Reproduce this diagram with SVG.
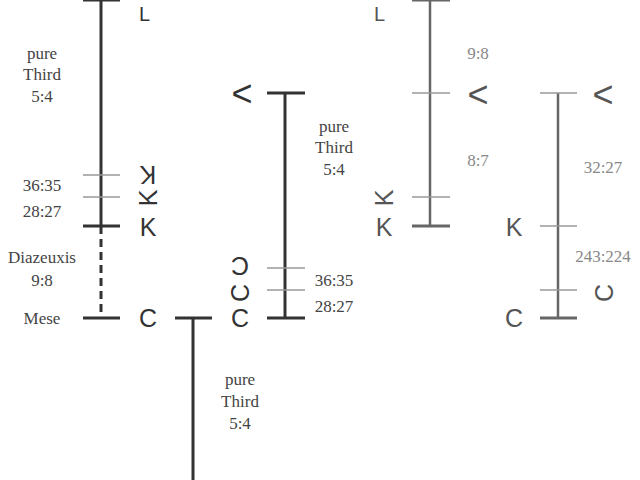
<svg xmlns="http://www.w3.org/2000/svg" width="640" height="480" viewBox="0 0 640 480">
<style>
.lbl{font-family:"Liberation Serif","Times New Roman",serif;font-size:17px;fill:#444;text-anchor:middle}
.lbl2{font-family:"Liberation Serif","Times New Roman",serif;font-size:17px;fill:#888;text-anchor:middle}
.sym{font-family:"Liberation Sans",Arial,sans-serif;font-size:25px;fill:#333;text-anchor:middle;dominant-baseline:central}
.sym2{font-family:"Liberation Sans",Arial,sans-serif;font-size:25px;fill:#555;text-anchor:middle;dominant-baseline:central}
.top{font-family:"Liberation Sans",Arial,sans-serif;font-size:20px;fill:#333}
.top2{font-family:"Liberation Sans",Arial,sans-serif;font-size:20px;fill:#555}
.lt{font-family:"Liberation Sans",Arial,sans-serif;font-size:36px;fill:#333;text-anchor:middle;dominant-baseline:central}
.lt2{font-family:"Liberation Sans",Arial,sans-serif;font-size:36px;fill:#555;text-anchor:middle;dominant-baseline:central}
.main{stroke:#333;stroke-width:3;fill:none}
.main2{stroke:#666;stroke-width:2.5;fill:none}
.tk{stroke:#333;stroke-width:3}
.tk2{stroke:#666;stroke-width:3}
.tl{stroke:#999;stroke-width:1.5}
</style>
<rect width="640" height="480" fill="#fff"/>
<g id="connectors">
  <line class="main" x1="101" y1="0" x2="101" y2="226"/>
  <line class="main" x1="101" y1="226" x2="101" y2="318" stroke-dasharray="8,5"/>
  <line class="main" x1="193" y1="318" x2="193" y2="480"/>
  <line class="main" x1="285" y1="93" x2="285" y2="318"/>
  <line class="main2" x1="430" y1="0" x2="430" y2="226"/>
  <line class="main2" x1="558" y1="93" x2="558" y2="318"/>
</g>
<g id="col1">
  <line class="tk" x1="83" y1="0" x2="120" y2="0"/>
  <line class="tl" x1="83" y1="175" x2="120" y2="175"/>
  <line class="tl" x1="83" y1="197" x2="120" y2="197"/>
  <line class="tk" x1="83" y1="226" x2="120" y2="226"/>
  <line class="tk" x1="83" y1="318" x2="120" y2="318"/>
  <text class="lbl" x="42" y="59">pure</text>
  <text class="lbl" x="42" y="80">Third</text>
  <text class="lbl" x="42" y="102">5:4</text>
  <text class="lbl" x="42" y="191">36:35</text>
  <text class="lbl" x="42" y="217">28:27</text>
  <text class="lbl" x="42" y="263">Diazeuxis</text>
  <text class="lbl" x="42" y="286">9:8</text>
  <text class="lbl" x="42" y="324">Mese</text>
  <text class="top" x="139" y="21">L</text>
  <text class="sym" x="148" y="175" transform="rotate(180 148 175)">K</text>
  <text class="sym" x="148" y="198" transform="rotate(-90 148 198)">K</text>
  <text class="sym" x="148" y="227">K</text>
  <text class="sym" x="148" y="318">C</text>
</g>
<g id="col2">
  <line class="tk" x1="175" y1="318" x2="212" y2="318"/>
  <text class="lbl" x="240" y="385">pure</text>
  <text class="lbl" x="240" y="407">Third</text>
  <text class="lbl" x="240" y="429">5:4</text>
</g>
<g id="col3">
  <line class="tk" x1="267" y1="93" x2="305" y2="93"/>
  <line class="tl" x1="267" y1="268" x2="305" y2="268"/>
  <line class="tl" x1="267" y1="290" x2="305" y2="290"/>
  <line class="tk" x1="267" y1="318" x2="305" y2="318"/>
  <text class="lt" x="242" y="93">&lt;</text>
  <text class="lbl" x="334" y="132">pure</text>
  <text class="lbl" x="334" y="153">Third</text>
  <text class="lbl" x="334" y="175">5:4</text>
  <text class="lbl" x="334" y="286">36:35</text>
  <text class="lbl" x="334" y="312">28:27</text>
  <text class="sym" x="240" y="266" transform="rotate(180 240 266)">C</text>
  <text class="sym" x="240" y="293" transform="rotate(-90 240 293)">C</text>
  <text class="sym" x="240" y="318">C</text>
</g>
<g id="col4">
  <line class="tk2" x1="412" y1="0" x2="450" y2="0"/>
  <line class="tl" x1="412" y1="93" x2="450" y2="93"/>
  <line class="tl" x1="412" y1="197" x2="450" y2="197"/>
  <line class="tk2" x1="412" y1="226" x2="450" y2="226"/>
  <text class="top2" x="374" y="21">L</text>
  <text class="lt2" x="478" y="94">&lt;</text>
  <text class="sym2" x="384" y="198" transform="rotate(-90 384 198)">K</text>
  <text class="sym2" x="384" y="227">K</text>
  <text class="lbl2" x="478" y="59">9:8</text>
  <text class="lbl2" x="478" y="166">8:7</text>
</g>
<g id="col5">
  <line class="tl" x1="540" y1="93" x2="577" y2="93"/>
  <line class="tl" x1="540" y1="226" x2="577" y2="226"/>
  <line class="tl" x1="540" y1="290" x2="577" y2="290"/>
  <line class="tk2" x1="540" y1="318" x2="577" y2="318"/>
  <text class="lt2" x="603" y="94">&lt;</text>
  <text class="sym2" x="514" y="227">K</text>
  <text class="sym2" x="604" y="293" transform="rotate(-90 604 293)">C</text>
  <text class="sym2" x="514" y="318">C</text>
  <text class="lbl2" x="603" y="173">32:27</text>
  <text class="lbl2" x="603" y="262">243:224</text>
</g>
</svg>
